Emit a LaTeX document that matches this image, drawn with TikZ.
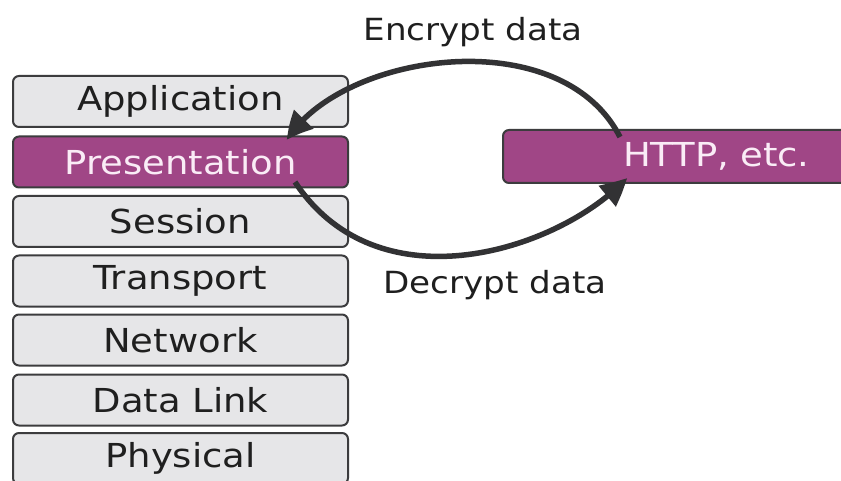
\documentclass[tikz,border=0pt]{standalone}
\usepackage{fontspec}
\setmainfont{DejaVu Sans}[FakeStretch=1.12]
\usetikzlibrary{arrows.meta,bending}
\definecolor{layergray}{RGB}{230,230,232}
\definecolor{layerborder}{RGB}{60,60,62}
\definecolor{magentafill}{RGB}{160,70,134}
\definecolor{magentatext}{RGB}{250,236,246}
\definecolor{arrowgray}{RGB}{50,50,52}
\tikzset{
  layer/.style={draw=layerborder, line width=2pt, fill=layergray, rounded corners=6pt,
    minimum width=335pt, minimum height=51pt, inner sep=0pt,
    font=\fontsize{33}{38}\selectfont, text=black!88},
  hilayer/.style={layer, fill=magentafill, text=magentatext},
  flowarrow/.style={draw=arrowgray, line width=5.5pt, -{Triangle[length=26pt,width=26pt,bend]}},
  flowlabel/.style={font=\fontsize{30.5}{35}\selectfont, text=black!88, inner sep=0pt}
}
\begin{document}
\begin{tikzpicture}[x=1pt,y=-1pt]
\useasboundingbox (0,0) rectangle (841,481);
\clip (0,0) rectangle (841,481);
\fill[white] (0,0) rectangle (841,481);
\node[layer]   (app)  at (180.5,101.5) {Application};
\node[hilayer] (pres) at (180.5,162)   {Presentation};
\node[layer]   (sess) at (180.5,221.5) {Session};
\node[layer]   (trans) at (180.5,281)  {Transport};
\node[layer]   (net)  at (180.5,340)   {Network};
\node[layer]   (dl)   at (180.5,400)   {Data Link};
\node[layer]   (phy)  at (180.5,458.5) {Physical};
\node[hilayer, anchor=west, minimum width=380pt, minimum height=53pt,
      text width=300pt, align=left, inner xsep=0pt] (http) at (502,156.5)
      {\hspace*{80pt}HTTP, etc.};
\coordinate (encS) at (620,137);
\coordinate (encE) at (287,140);
\coordinate (decS) at (295,182);
\coordinate (decE) at (627,178);
\draw[flowarrow] (encS) .. controls (560,20) and (340,53) .. (encE);
\draw[flowarrow] (decS) .. controls (379,309) and (560,250) .. (decE);
\node[flowlabel] (enc) at (473,32) {Encrypt data};
\node[flowlabel] (dec) at (495,285) {Decrypt data};
\end{tikzpicture}
\end{document}
